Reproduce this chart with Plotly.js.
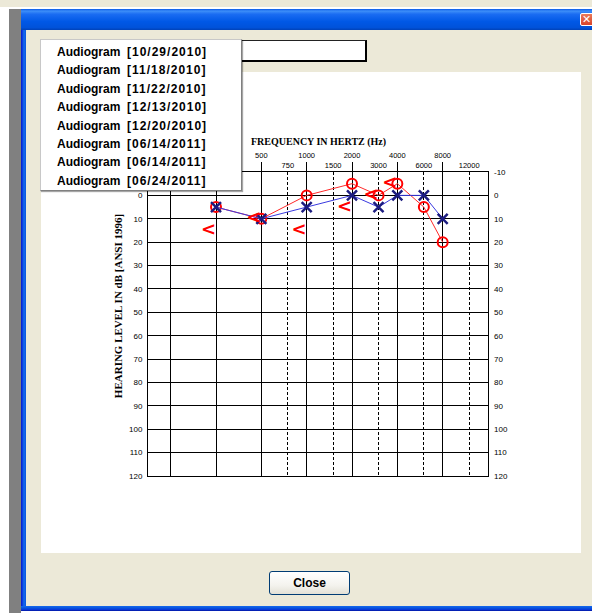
<!DOCTYPE html>
<html>
<head>
<meta charset="utf-8">
<script src="https://cdn.plot.ly/plotly-3.0.1.min.js"></script>
<style>
html,body{margin:0;padding:0;width:592px;height:613px;overflow:hidden;background:#ffffff;font-family:"Liberation Sans",Arial,sans-serif;}
.abs{position:absolute;}
#topband{left:0;top:0;width:592px;height:7px;background:#ECE9D8;}
#gray{left:9px;top:9px;width:12px;height:604px;background:#808080;}
#win{left:21px;top:9px;width:571px;height:602px;background:linear-gradient(to right,#0019CF 0px,#0831D9 1px,#166AEE 3px,#0855DD 5px);}
#winbottom{left:21px;top:606px;width:571px;height:5px;background:linear-gradient(to bottom,#166AEE 0px,#0855DD 2px,#0831D9 4px,#001090 5px);}
#titlebar{left:21px;top:9px;width:571px;height:21px;background:linear-gradient(to bottom,#0A5AE8 0%,#3D8EF8 10%,#1A6CF2 25%,#0058E6 60%,#0052DA 88%,#0042B8 100%);}
#closex{left:580px;top:13px;width:16px;height:13px;background:linear-gradient(#E97A5A,#D8432A);border:1px solid #fff;border-radius:2px;box-sizing:border-box;color:#fff;font:bold 11px/11px "DejaVu Sans",sans-serif;padding-left:1px;}
#body{left:26px;top:30px;width:566px;height:576px;background:#ECE9D8;}
#panel{left:41px;top:72px;width:540px;height:481px;background:#ffffff;}
#chart{left:41px;top:72px;width:540px;height:481px;}
#combo{left:240px;top:40px;width:127px;height:22px;background:#fff;border:1px solid #222;border-right:2px solid #000;border-bottom:2px solid #000;box-sizing:border-box;z-index:5;}
#dropdown{left:40px;top:39px;width:202px;height:152px;background:#fff;border:1px solid #c8c8c8;border-right:1px solid #808080;border-bottom:1px solid #808080;box-sizing:border-box;box-shadow:1px 1px 1px rgba(0,0,0,0.35);z-index:10;padding-top:3px;}
#dropdown div{height:18.4px;line-height:18.4px;padding-left:16px;font-weight:bold;font-size:12px;color:#000;white-space:pre;}
#dropdown span{letter-spacing:1px;}
#closebtn{left:269px;top:571px;width:81px;height:24px;border:1px solid #003C74;border-radius:3px;box-sizing:border-box;background:linear-gradient(#FFFFFF,#F4F3EE 60%,#E3E1D6);text-align:center;font-weight:bold;font-size:12px;line-height:22px;color:#000;}
</style>
</head>
<body>
<div id="topband" class="abs"></div>
<div id="gray" class="abs"></div>
<div id="win" class="abs"></div>
<div id="titlebar" class="abs"></div>
<div id="body" class="abs"></div>
<div id="winbottom" class="abs"></div>
<div id="closex" class="abs">✕</div>
<div id="panel" class="abs"></div>
<div id="chart" class="abs"></div>
<div id="combo" class="abs"></div>
<div id="dropdown" class="abs"></div>
<div id="closebtn" class="abs">Close</div>
<script>
// ---- data ----
const audiogramDates = ['10/29/2010','11/18/2010','11/22/2010','12/13/2010','12/20/2010','06/14/2011','06/14/2011','06/24/2011'];

const freqs = [250, 500, 1000, 2000, 3000, 4000, 6000, 8000];
const rightAirDb = [5, 10, 0, -5, 0, -5, 5, 20];      // red O
const leftAirDb  = [5, 10, 5, 0, 5, 0, 0, 10];        // blue X
const boneFreqs  = [250, 500, 1000, 2000, 3000, 4000];
const rightBoneDb = [15, 10, 15, 5, 0, -5];           // red <

const octaveFreqs  = [125, 250, 500, 1000, 2000, 4000, 8000];
const octaveLabels = ['', '', '500', '1000', '2000', '4000', '8000'];
const midFreqs     = [750, 1500, 3000, 6000, 12000];
const midLabels    = ['750', '1500', '3000', '6000', '12000'];
const dbTicks      = [-10, 0, 10, 20, 30, 40, 50, 60, 70, 80, 90, 100, 110, 120];
const dbLabelsLeft  = ['', '0', '10', '20', '30', '40', '50', '60', '70', '80', '90', '100', '110', '120'];
const dbLabelsRight = ['-10', '0', '10', '20', '30', '40', '50', '60', '70', '80', '90', '100', '110', '120'];

// dropdown list
const dd = document.getElementById('dropdown');
audiogramDates.forEach(d => {
  const row = document.createElement('div');
  row.innerHTML = 'Audiogram  <span>[' + d + ']</span>';
  dd.appendChild(row);
});

const xRange = [Math.log10(125 / Math.SQRT2), Math.log10(16000)];
const tickFont = {family: 'Liberation Sans, Arial, sans-serif', size: 7.5, color: '#000'};

const traces = [
  {
    x: freqs, y: rightAirDb, type: 'scatter', mode: 'lines+markers',
    line: {color: '#ff2a2a', width: 1},
    marker: {symbol: 'circle', size: 10, color: 'rgba(255,255,255,0)', line: {color: '#ff0000', width: 2}},
    xaxis: 'x', yaxis: 'y', hoverinfo: 'skip'
  },
  {
    x: freqs, y: leftAirDb, type: 'scatter', mode: 'lines+markers',
    line: {color: '#3a3ae0', width: 1},
    marker: {symbol: 'x-thin-open', size: 10, color: '#1c1c80', line: {color: '#1c1c80', width: 2.5}},
    xaxis: 'x', yaxis: 'y', hoverinfo: 'skip'
  },
  {
    x: boneFreqs, y: rightBoneDb, type: 'scatter', mode: 'text',
    text: boneFreqs.map(() => '<'), textposition: 'middle left',
    textfont: {family: 'DejaVu Sans, sans-serif', size: 18, color: '#ff0000', weight: 'bold'},
    xaxis: 'x', yaxis: 'y', hoverinfo: 'skip'
  },
  // invisible helper traces so secondary axes are drawn
  {x: [1000], y: [200], type: 'scatter', mode: 'markers', marker: {opacity: 0}, xaxis: 'x2', yaxis: 'y', hoverinfo: 'skip'},
  {x: [1000], y: [200], type: 'scatter', mode: 'markers', marker: {opacity: 0}, xaxis: 'x', yaxis: 'y2', hoverinfo: 'skip'}
];

const layout = {
  width: 540, height: 481,
  margin: {l: 107, r: 93, t: 100, b: 77, pad: 0},
  paper_bgcolor: '#ffffff', plot_bgcolor: '#ffffff',
  showlegend: false,
  xaxis: {
    type: 'log', range: xRange, side: 'top', fixedrange: true,
    tickmode: 'array', tickvals: octaveFreqs, ticktext: octaveLabels,
    ticks: 'outside', ticklen: 9, tickwidth: 1, tickcolor: '#000',
    tickfont: tickFont, ticklabelstandoff: 1,
    showgrid: true, gridcolor: '#000', gridwidth: 1,
    showline: true, linecolor: '#000', linewidth: 1, mirror: true,
    zeroline: false
  },
  xaxis2: {
    type: 'log', range: xRange, side: 'top', overlaying: 'x', fixedrange: true,
    tickmode: 'array', tickvals: midFreqs, ticktext: midLabels,
    ticks: '', tickfont: tickFont, ticklabelstandoff: 2,
    showgrid: true, gridcolor: '#000', gridwidth: 1, griddash: '3px,2px',
    showline: false, zeroline: false
  },
  yaxis: {
    range: [120, -10], fixedrange: true,
    tickmode: 'array', tickvals: dbTicks, ticktext: dbLabelsLeft,
    ticks: '', tickfont: {family: 'Liberation Sans, Arial, sans-serif', size: 8, color: '#000'},
    ticklabelstandoff: 3,
    showgrid: true, gridcolor: '#000', gridwidth: 1,
    showline: true, linecolor: '#000', linewidth: 1, mirror: true,
    zeroline: false
  },
  yaxis2: {
    range: [120, -10], overlaying: 'y', side: 'right', fixedrange: true,
    tickmode: 'array', tickvals: dbTicks, ticktext: dbLabelsRight,
    ticks: '', tickfont: {family: 'Liberation Sans, Arial, sans-serif', size: 8, color: '#000'},
    ticklabelstandoff: 5,
    showgrid: false, showline: false, zeroline: false
  },
  annotations: [
    {
      text: 'FREQUENCY IN HERTZ (Hz)', xref: 'paper', yref: 'paper', x: 0.5, y: 1.0987,
      xanchor: 'center', yanchor: 'middle', showarrow: false,
      font: {family: 'Liberation Serif, serif', size: 10, color: '#000', weight: 'bold'}
    },
    {
      text: 'HEARING LEVEL IN dB [ANSI 1996]', xref: 'paper', yref: 'paper', x: -0.088, y: 0.559,
      xanchor: 'center', yanchor: 'middle', textangle: -90, showarrow: false,
      font: {family: 'Liberation Serif, serif', size: 11, color: '#000', weight: 'bold'}
    }
  ]
};

Plotly.newPlot('chart', traces, layout, {staticPlot: true, displayModeBar: false});
</script>
</body>
</html>
